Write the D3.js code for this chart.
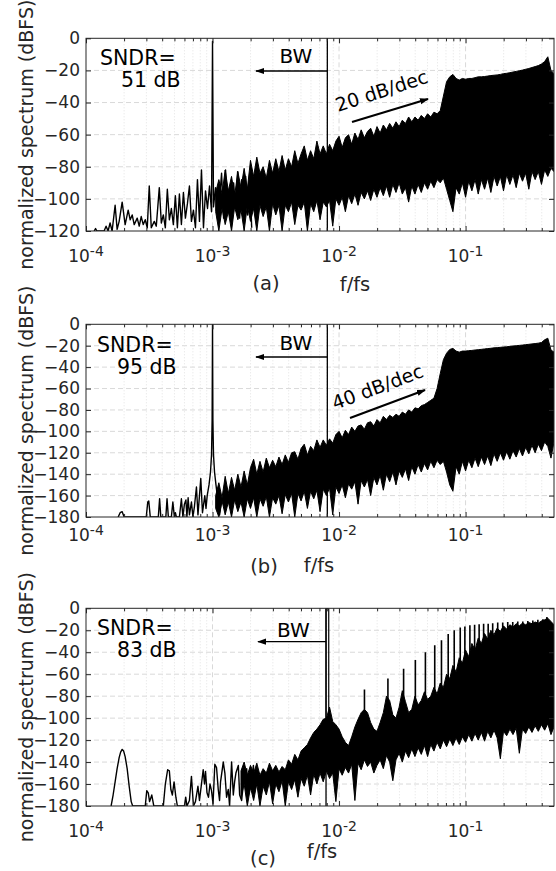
<!DOCTYPE html>
<html>
<head>
<meta charset="utf-8">
<script src="https://cdn.jsdelivr.net/npm/d3@7"></script>
<style>
  body { margin: 0; background: #fff; }
  svg { display: block; font-family: "DejaVu Sans", sans-serif; }
</style>
</head>
<body>
<div id="chart"></div>
<script>
/* * * * * * * * * * * * * * * *
*   spectra (a) (b) (c) data    *
* * * * * * * * * * * * * * * */

// shared frequency grid (f/fs) for the dense part of each spectrum
const bandFreq = [
  0.001, 0.001059, 0.001122, 0.001189, 0.001259, 0.001334, 0.001413, 0.001496, 0.001585, 0.001679,
  0.001778, 0.001884, 0.001995, 0.002113, 0.002239, 0.002371, 0.002512, 0.002661, 0.002818, 0.002985,
  0.003162, 0.00335, 0.003548, 0.003758, 0.003981, 0.004217, 0.004467, 0.004732, 0.005012, 0.005309,
  0.005623, 0.005957, 0.00631, 0.006683, 0.007079, 0.007499, 0.007943, 0.008414, 0.008913, 0.009441,
  0.01, 0.01059, 0.01122, 0.01189, 0.01259, 0.01334, 0.01413, 0.01496, 0.01585, 0.01679,
  0.01778, 0.01884, 0.01995, 0.02113, 0.02239, 0.02371, 0.02512, 0.02661, 0.02818, 0.02985,
  0.03162, 0.0335, 0.03548, 0.03758, 0.03981, 0.04217, 0.04467, 0.04732, 0.05012, 0.05309,
  0.05623, 0.05957, 0.0631, 0.06683, 0.07079, 0.07499, 0.07943, 0.08414, 0.08913, 0.09441,
  0.1, 0.1059, 0.1122, 0.1189, 0.1259, 0.1334, 0.1413, 0.1496, 0.1585, 0.1679,
  0.1778, 0.1884, 0.1995, 0.2113, 0.2239, 0.2371, 0.2512, 0.2661, 0.2818, 0.2985,
  0.3162, 0.335, 0.3548, 0.3758, 0.3981, 0.4217, 0.4467, 0.4732, 0.5
];

// (a) upper / lower edge of the dense spectrum (dBFS)
const aTop = [null,
  -96, -88, -97, -82, -95, -86, -98, -83, -93, -81,
  -94, -76, -86, -74, -84, -80, -87, -76, -84, -75,
  -83, -73, -82, -75, -80, -70, -78, -72, -67, -76,
  -70, -75, -64, -72, -67, -72, -66, -70, -64, -61,
  -68, -62, -60, -66, -59, -63, -57, -62, -58, -56,
  -61, -55, -59, -54, -57, -53, -56, -52, -55, -51,
  -53, -49, -52, -49, -51, -48, -50, -47, -49, -46,
  -47, -45, -36, -27, -24, -22.5, -25, -26, -25, -25.5,
  -25, -25, -24.5, -24, -24, -23.8, -23.5, -23.2, -23, -22.8,
  -22.5, -22, -21.8, -21.4, -21, -20.6, -20.2, -19.8, -19.3, -18.8,
  -18.2, -17.6, -17, -16, -14.5, -11.5, -20, -22];
const aBot = [null,
  -108, -120, -106, -116, -108, -120, -105, -113, -107, -120,
  -104, -114, -106, -120, -104, -111, -105, -120, -103, -110,
  -104, -120, -104, -108, -102, -116, -104, -107, -102, -120,
  -103, -108, -101, -113, -102, -105, -101, -117, -100, -104,
  -99, -108, -98, -103, -97, -104, -96, -100, -95, -101,
  -94, -99, -93, -98, -92, -99, -91, -96, -90, -97,
  -93, -102, -92, -97, -91, -96, -90, -94, -89, -93,
  -88, -90, -87, -94, -101, -108, -93, -97, -90, -99,
  -89, -95, -88, -97, -88, -94, -87, -96, -86, -92,
  -86, -95, -85, -91, -85, -93, -84, -89, -84, -94,
  -83, -88, -83, -91, -82, -86, -81, -83];

// (a) sparse low-frequency part incl. the input tone
const aLowF = [1.16e-4, 1.19e-4, 1.22e-4, 1.39e-4, 1.441e-4, 1.495e-4, 1.55e-4, 1.608e-4, 1.699e-4, 1.762e-4,
  1.828e-4, 1.931e-4, 2.039e-4, 2.154e-4, 2.235e-4, 2.318e-4, 2.404e-4, 2.54e-4, 2.634e-4, 2.732e-4,
  2.834e-4, 2.94e-4, 3.049e-4, 3.162e-4, 3.28e-4, 3.465e-4, 3.594e-4, 3.796e-4, 3.938e-4, 4.084e-4,
  4.237e-4, 4.394e-4, 4.558e-4, 4.728e-4, 4.904e-4, 5.086e-4, 5.276e-4, 5.472e-4, 5.676e-4, 5.888e-4,
  6.105e-4, 6.333e-4, 6.569e-4, 6.813e-4, 7.066e-4, 7.329e-4, 7.601e-4, 7.886e-4, 8.179e-4, 8.483e-4,
  8.801e-4, 9.127e-4, 9.467e-4, 9.819e-4, 1.0e-3, 1.018e-3, 1.056e-3, 1.096e-3, 1.137e-3, 1.179e-3,
  1.223e-3, 1.268e-3, 1.315e-3, 1.364e-3, 1.415e-3, 1.468e-3, 1.522e-3, 1.579e-3, 1.638e-3, 1.699e-3,
  1.762e-3, 1.828e-3, 1.896e-3, 1.966e-3, 2.04e-3];
const aLowDb = [-120, -118.5, -120, -120, -117, -120, -115, -120, -104, -119,
  -114, -102, -116, -107, -113, -110, -116, -112, -117, -111,
  -116, -113, -118, -92, -118, -114, -117, -93, -115, -110,
  -118, -94, -113, -106, -116, -98, -118, -97, -116, -96,
  -112, -103, -92, -114, -107, -118, -88, -114, -82, -118,
  -95, -106, -92, -108, -2, -105, -93, -110, -100, -84,
  -112, -82, -108, -96, -115, -90, -106, -83, -112, -88,
  -104, -86, -110, -84, -118];

// (b)
const bTop = [null,
  -160, -148, -162, -142, -158, -143, -155, -140, -152, -137,
  -150, -134, -126, -140, -128, -138, -125, -134, -127, -133,
  -124, -131, -122, -129, -120, -119, -126, -116, -112, -122,
  -114, -118, -108, -115, -108, -113, -107, -111, -103, -100,
  -106, -99, -103, -96, -100, -95, -94, -98, -92, -91,
  -95, -89, -92, -86, -89, -85, -87, -84, -86, -82,
  -84, -80, -82, -78, -79, -76, -75, -73, -71, -69,
  -60, -46, -33, -27, -23.5, -22.5, -25, -26, -25, -25,
  -24.6, -24.4, -24, -23.7, -23.4, -23, -22.7, -22.4, -22, -21.8,
  -21.5, -21.2, -21, -20.6, -20.3, -20, -19.7, -19.4, -19, -18.7,
  -18.3, -18, -17.6, -17, -14.5, -13, -24, -26];
const bBot = [null,
  -172, -180, -165, -178, -166, -180, -164, -175, -166, -180,
  -163, -172, -162, -180, -163, -170, -161, -180, -162, -168,
  -160, -177, -159, -166, -158, -180, -158, -165, -156, -172,
  -156, -163, -155, -175, -154, -160, -153, -178, -152, -158,
  -150, -162, -149, -154, -147, -168, -146, -152, -145, -160,
  -143, -150, -141, -155, -140, -147, -138, -150, -137, -143,
  -135, -146, -133, -140, -131, -138, -130, -136, -128, -134,
  -127, -131, -128, -138, -150, -156, -133, -140, -128, -137,
  -127, -134, -125, -133, -124, -131, -123, -132, -121, -128,
  -120, -127, -119, -126, -118, -124, -116, -123, -115, -121,
  -113, -120, -112, -118, -110, -114, -125, -110];
const bLowF = [1.795e-4, 1.862e-4, 1.931e-4, 2.003e-4, 2.994e-4, 3.077e-4, 3.134e-4, 3.221e-4, 3.728e-4, 3.817e-4,
  3.902e-4, 4.276e-4, 4.37e-4, 4.476e-4, 4.728e-4, 4.859e-4, 4.994e-4, 5.086e-4, 5.18e-4, 5.472e-4,
  5.676e-4, 5.834e-4, 5.995e-4, 6.162e-4, 6.275e-4, 6.414e-4, 6.569e-4, 6.813e-4, 7.002e-4, 7.197e-4,
  7.465e-4, 7.672e-4, 7.886e-4, 8.075e-4, 8.33e-4, 8.688e-4, 8.881e-4, 9.078e-4, 9.38e-4, 9.641e-4,
  9.819e-4, 9.927e-4, 1.0e-3, 1.007e-3, 1.018e-3, 1.037e-3, 1.065e-3, 1.095e-3, 1.137e-3, 1.179e-3];
const bLowDb = [-180, -176, -175, -180, -180, -166, -165, -180, -180, -163,
  -180, -180, -163, -180, -180, -166, -180, -176, -180, -180,
  -163, -180, -168, -164, -180, -162, -178, -166, -180, -170,
  -152, -178, -160, -144, -176, -160, -172, -160, -150, -138,
  -122, -90, 0, -90, -122, -138, -150, -162, -178, -165];

// (c)
const cTop = [null, null, null, null, null, null, null, null, null, -148,
  -140, -152, -143, -150, -141, -152, -146, -150, -141, -148,
  -143, -149, -144, -147, -138, -142, -133, -138, -130, -127,
  -124, -118, -113, -110, -106, -101, -100, -90, -103, -106,
  -110, -117, -122, -125, -117, -108, -101, -95, -92, -95,
  -104, -110, -112, -104, -95, -80, -84, -97, -100, -90,
  -75, -85, -95, -92, -80, -88, -84, -76, -83, -80,
  -72, -78, -68, -72, -60, -64, -52, -58, -45, -50,
  -38, -44, -32, -38, -27, -32, -23, -28, -20, -24,
  -18, -21, -16, -19, -15, -17, -14, -16, -13.5, -15,
  -13, -14, -12.5, -13.5, -11.5, -10.5, -9, -12, -15];
const cBot = [null, null, null, null, null, null, null, null, null, -172,
  -160, -180, -163, -175, -160, -180, -162, -170, -158, -178,
  -160, -167, -157, -180, -158, -165, -156, -172, -155, -162,
  -152, -170, -151, -160, -150, -158, -148, -155, -150, -176,
  -146, -152, -145, -150, -142, -175, -141, -147, -138, -144,
  -140, -150, -143, -138, -146, -134, -140, -157, -138, -132,
  -140, -130, -136, -128, -135, -127, -133, -125, -135, -124,
  -130, -122, -128, -120, -126, -119, -125, -118, -124, -117,
  -122, -115, -121, -114, -120, -113, -121, -112, -118, -111,
  -118, -137, -112, -116, -110, -115, -109, -132, -110, -114,
  -108, -113, -107, -112, -106, -111, -105, -115, -108];
const cLowF = [1.579e-4, 1.638e-4, 1.699e-4, 1.762e-4, 1.828e-4, 1.878e-4, 1.931e-4, 1.984e-4, 2.039e-4, 2.115e-4,
  2.194e-4, 2.276e-4, 2.339e-4, 2.94e-4, 3.022e-4, 3.105e-4, 3.18e-4, 3.311e-4, 3.434e-4, 4.084e-4,
  4.237e-4, 4.418e-4, 4.558e-4, 4.685e-4, 4.815e-4, 4.967e-4, 5.133e-4, 5.276e-4, 5.995e-4, 6.14e-4,
  6.275e-4, 6.569e-4, 6.813e-4, 7.066e-4, 7.329e-4, 7.672e-4, 7.886e-4, 8.179e-4, 8.438e-4, 8.641e-4,
  8.801e-4, 9.044e-4, 9.295e-4, 9.553e-4, 9.819e-4, 1.0092e-3, 1.0429e-3, 1.0758e-3, 1.1098e-3, 1.1365e-3,
  1.1574e-3, 1.216e-3, 1.2521e-3, 1.2915e-3, 1.3322e-3, 1.3643e-3, 1.415e-3, 1.4597e-3, 1.4948e-3, 1.5307e-3,
  1.5995e-3, 1.6379e-3, 1.6989e-3, 1.7526e-3, 1.8112e-3, 1.8616e-3, 1.9134e-3, 1.9774e-3, 2.0398e-3, 2.1042e-3,
  2.1544e-3];
const cLowDb = [-180, -170, -158, -146, -136, -131, -128.5, -130, -135, -146,
  -162, -176, -180, -180, -166, -168, -176, -170, -180, -180,
  -160, -147, -148, -165, -170, -158, -172, -180, -180, -172,
  -180, -175, -153, -180, -176, -162, -175, -160, -147, -160,
  -148.5, -168, -172, -160, -166, -178, -142, -145, -165, -175,
  -158, -140, -150, -172, -165, -180, -140, -170, -158, -150,
  -143, -170, -175, -160, -150, -146, -168, -165, -155, -143,
  -165];
// (c) tone near the band edge and the harmonic comb
const cToneF = [0.00789, 0.00789, 0.00829, 0.00829];
const cToneDb = [-140, 0, 0, -140];
const cHarmF = [0.01588, 0.02434, 0.03238, 0.0401, 0.04815, 0.05706, 0.0645, 0.0729, 0.08135, 0.09077,
  0.09872, 0.1082, 0.1179, 0.128, 0.1389, 0.1509, 0.1638, 0.1795, 0.1966, 0.2154,
  0.236, 0.2586, 0.2834, 0.3105, 0.3401, 0.3727, 0.4084, 0.4394];
const cHarmDb = [-74, -64, -55, -47, -40, -33.6, -29, -23.5, -20, -17.5,
  -16.5, -15.5, -15, -14.5, -14, -14, -13.5, -13, -13, -12.5,
  -12.5, -12, -12, -11.5, -11, -10.5, -10, -8];

// annotations / ticks
const bwFreq = [0.00808, 0.00808, 0.00789];
const sndrValues = [51, 95, 83];
const slopeLabels = ["20 dB/dec", "40 dB/dec", null];
const panelLetters = ["(a)", "(b)", "(c)"];
const xDecades = [1e-4, 1e-3, 1e-2, 1e-1];
const yTicksA = [0, -20, -40, -60, -80, -100, -120];
const yTicksBC = [0, -20, -40, -60, -80, -100, -120, -140, -160, -180];

/* * * * * * * * * * *
*       drawing      *
* * * * * * * * * * */

const width = 556, height = 871;
const left = 86, right = 554;

const panels = [
  {top: 38.3, bottom: 231, yMin: -120, yTicks: yTicksA, hi: aTop, lo: aBot, lowF: aLowF, lowDb: aLowDb,
   xLabY: 262, letter: [266, 290], ffs: [355, 291], sndr: [100, 65, 121, 87],
   bw: [296, 63, 71, 256], slope: {tx: 338, ty: 112, rot: -18, a: [352, 122, 428, 99]}},
  {top: 324.3, bottom: 517, yMin: -180, yTicks: yTicksBC, hi: bTop, lo: bBot, lowF: bLowF, lowDb: bLowDb,
   xLabY: 541, letter: [264, 573], ffs: [319, 572], sndr: [97, 352, 117, 374],
   bw: [296, 350, 357, 256], slope: {tx: 335, ty: 410, rot: -20.5, a: [350, 418, 425, 390]}},
  {top: 608.3, bottom: 806, yMin: -180, yTicks: yTicksBC, hi: cTop, lo: cBot, lowF: cLowF, lowDb: cLowDb,
   xLabY: 837, letter: [263, 865], ffs: [322, 858], sndr: [97, 635, 117, 657],
   bw: [293.5, 637, 641.7, 258], slope: null}
];

const svg = d3.select("#chart").append("svg")
    .attr("width", width)
    .attr("height", height);

const defs = svg.append("defs");
defs.append("marker")
    .attr("id", "arrow")
    .attr("viewBox", "0 0 10 10")
    .attr("refX", 9).attr("refY", 5)
    .attr("markerWidth", 9).attr("markerHeight", 9)
    .attr("markerUnits", "userSpaceOnUse")
    .attr("orient", "auto")
    .append("path")
    .attr("d", "M0,1.5 L10,5 L0,8.5 Z")
    .attr("fill", "#000");

const x = d3.scaleLog().domain([1e-4, 0.5]).range([left, right]);
const isDecade = t => Math.abs(Math.log10(t) - Math.round(Math.log10(t))) < 1e-6;
const minorX = x.ticks().filter(t => !isDecade(t) && t < 0.5);

panels.forEach((p, pi) => {
    const y = d3.scaleLinear().domain([p.yMin, 0]).range([p.bottom, p.top]);
    const g = svg.append("g");

    defs.append("clipPath").attr("id", "clip" + pi)
        .append("rect")
        .attr("x", left).attr("y", p.top)
        .attr("width", right - left).attr("height", p.bottom - p.top);

    // grid
    const grid = g.append("g");
    grid.selectAll(".gy").data(p.yTicks.filter(t => t !== 0 && t !== p.yMin)).join("line")
        .attr("class", "gy")
        .attr("x1", left).attr("x2", right)
        .attr("y1", d => y(d)).attr("y2", d => y(d))
        .attr("stroke", "#d9d9d9").attr("stroke-dasharray", "5,3");
    grid.selectAll(".gx").data(xDecades.slice(1)).join("line")
        .attr("class", "gx")
        .attr("x1", d => x(d)).attr("x2", d => x(d))
        .attr("y1", p.top).attr("y2", p.bottom)
        .attr("stroke", "#d9d9d9").attr("stroke-dasharray", "5,3");
    grid.selectAll(".gm").data(minorX).join("line")
        .attr("class", "gm")
        .attr("x1", d => x(d)).attr("x2", d => x(d))
        .attr("y1", p.top).attr("y2", p.bottom)
        .attr("stroke", "#e2e2e2").attr("stroke-dasharray", "1,2");

    // spectrum
    const plot = g.append("g").attr("clip-path", `url(#clip${pi})`);

    const band = bandFreq.map((f, i) => ({f: f, hi: p.hi[i], lo: p.lo[i]}));
    const area = d3.area()
        .defined(d => d.hi != null)
        .x(d => x(d.f))
        .y0(d => y(d.lo))
        .y1(d => y(d.hi));
    plot.append("path").datum(band)
        .attr("d", area)
        .attr("fill", "#000")
        .attr("stroke", "#000")
        .attr("stroke-width", 1);

    const line = d3.line().x(d => x(d.f)).y(d => y(d.db));
    const low = p.lowF.map((f, i) => ({f: f, db: p.lowDb[i]}));
    plot.append("path").datum(low)
        .attr("d", line)
        .attr("fill", "none")
        .attr("stroke", "#000")
        .attr("stroke-width", 1.4)
        .attr("stroke-linejoin", "round");

    if (pi === 2) {
        const tone = cToneF.map((f, i) => ({f: f, db: cToneDb[i]}));
        plot.append("path").datum(tone)
            .attr("d", line)
            .attr("fill", "none")
            .attr("stroke", "#000")
            .attr("stroke-width", 1.2);
        const harm = cHarmF.map((f, i) => ({f: f, db: cHarmDb[i]}));
        plot.selectAll(".harm").data(harm).join("line")
            .attr("class", "harm")
            .attr("x1", d => x(d.f)).attr("x2", d => x(d.f))
            .attr("y1", y(-100)).attr("y2", d => y(d.db))
            .attr("stroke", "#000")
            .attr("stroke-width", 1.6);
    }

    // BW marker
    const bwX = x(bwFreq[pi]);
    g.append("line")
        .attr("x1", bwX).attr("x2", bwX)
        .attr("y1", p.top).attr("y2", p.bottom)
        .attr("stroke", "#000").attr("stroke-width", 1.3);
    g.append("line")
        .attr("x1", bwX).attr("x2", p.bw[3])
        .attr("y1", p.bw[2]).attr("y2", p.bw[2])
        .attr("stroke", "#000").attr("stroke-width", 1.3)
        .attr("marker-end", "url(#arrow)");
    g.append("text")
        .attr("x", p.bw[0]).attr("y", p.bw[1])
        .attr("text-anchor", "middle")
        .attr("font-size", 20)
        .text("BW");

    // SNDR
    g.append("text")
        .attr("x", p.sndr[0]).attr("y", p.sndr[1])
        .attr("font-size", 20.5)
        .text("SNDR=");
    g.append("text")
        .attr("x", p.sndr[2]).attr("y", p.sndr[3])
        .attr("font-size", 20.5)
        .text(sndrValues[pi] + " dB");

    // slope
    if (p.slope) {
        g.append("text")
            .attr("transform", `translate(${p.slope.tx},${p.slope.ty}) rotate(${p.slope.rot})`)
            .attr("font-size", 19)
            .text(slopeLabels[pi]);
        g.append("line")
            .attr("x1", p.slope.a[0]).attr("y1", p.slope.a[1])
            .attr("x2", p.slope.a[2]).attr("y2", p.slope.a[3])
            .attr("stroke", "#000").attr("stroke-width", 2.2)
            .attr("marker-end", "url(#arrow)");
    }

    // axes
    const ax = g.append("g").attr("color", "#262626");
    ax.append("g")
        .attr("transform", `translate(${left},0)`)
        .call(d3.axisLeft(y).tickValues(p.yTicks).tickSizeInner(-5).tickSizeOuter(0).tickPadding(6))
        .call(s => s.select(".domain").remove())
        .call(s => s.selectAll("text").attr("font-size", 17).attr("font-family", "DejaVu Sans").attr("fill", "#262626"));
    ax.append("g")
        .attr("transform", `translate(${right},0)`)
        .call(d3.axisRight(y).tickValues(p.yTicks).tickSizeInner(-5).tickSizeOuter(0).tickFormat(""))
        .call(s => s.select(".domain").remove());
    [[p.bottom, d3.axisBottom], [p.top, d3.axisTop]].forEach(([yy, axisFn]) => {
        ax.append("g")
            .attr("transform", `translate(0,${yy})`)
            .call(axisFn(x).tickValues(xDecades).tickSizeInner(-5).tickSizeOuter(0).tickFormat(""))
            .call(s => s.select(".domain").remove());
        ax.append("g")
            .attr("transform", `translate(0,${yy})`)
            .call(axisFn(x).tickValues(minorX).tickSizeInner(-3).tickSizeOuter(0).tickFormat(""))
            .call(s => s.select(".domain").remove());
    });
    ax.append("rect")
        .attr("x", left).attr("y", p.top)
        .attr("width", right - left).attr("height", p.bottom - p.top)
        .attr("fill", "none").attr("stroke", "#262626").attr("stroke-width", 1);

    // x tick labels 10^n
    g.selectAll(".xlab").data(xDecades).join("text")
        .attr("class", "xlab")
        .attr("x", d => x(d)).attr("y", p.xLabY)
        .attr("text-anchor", "middle")
        .attr("font-size", 17)
        .attr("fill", "#262626")
        .each(function(d) {
            const t = d3.select(this);
            t.append("tspan").text("10");
            t.append("tspan").attr("dy", -6).attr("font-size", 14).text(Math.round(Math.log10(d)));
        });

    g.append("text")
        .attr("x", p.letter[0]).attr("y", p.letter[1])
        .attr("text-anchor", "middle")
        .attr("font-size", 19.5).attr("fill", "#262626")
        .text(panelLetters[pi]);
    g.append("text")
        .attr("x", p.ffs[0]).attr("y", p.ffs[1])
        .attr("text-anchor", "middle")
        .attr("font-size", 19.5).attr("fill", "#262626")
        .text("f/fs");

    g.append("text")
        .attr("transform", `translate(33,${(p.top + p.bottom) / 2}) rotate(-90)`)
        .attr("text-anchor", "middle")
        .attr("font-size", 19)
        .attr("fill", "#262626")
        .text("normalized spectrum (dBFS)");
});
</script>
</body>
</html>
